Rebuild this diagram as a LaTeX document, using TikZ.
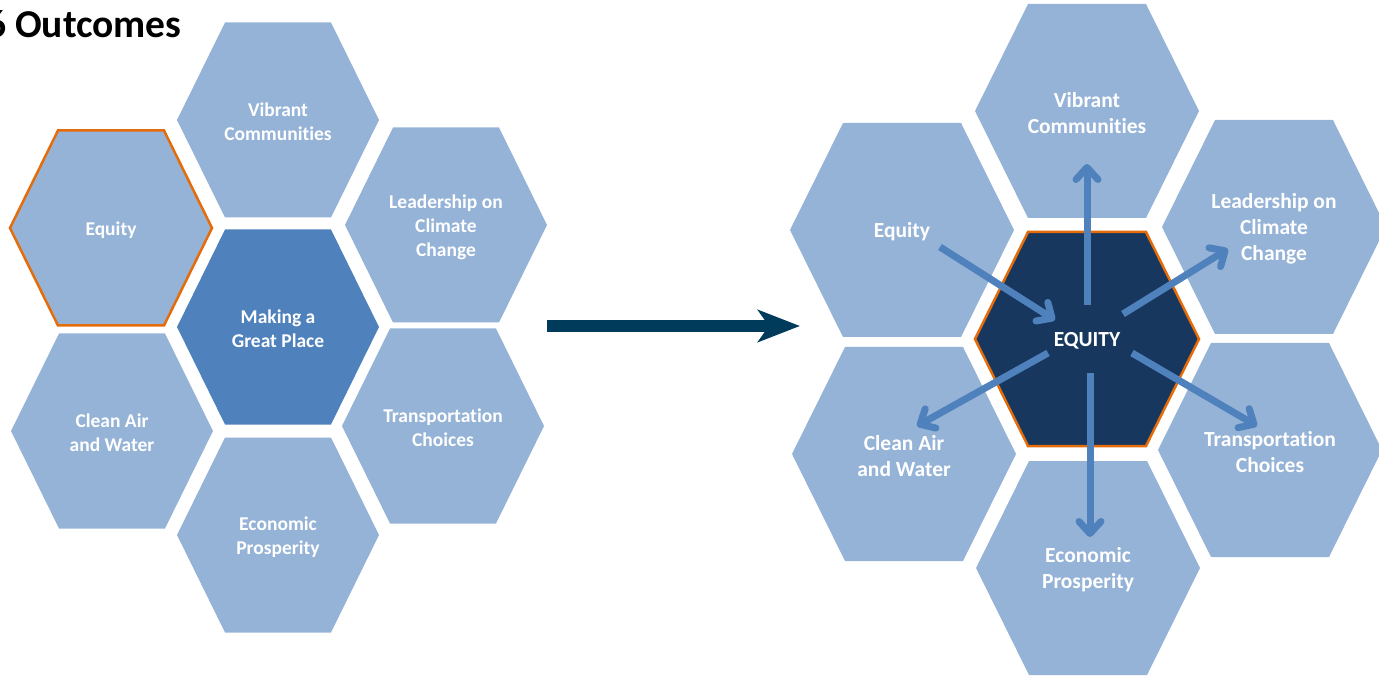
\documentclass[tikz,border=0pt]{standalone}
\usepackage{fontspec}
\setmainfont{Carlito}[Ligatures=NoCommon]
\usetikzlibrary{arrows.meta}
\definecolor{hexlight}{HTML}{95B3D7}
\definecolor{hexmid}{HTML}{4F81BD}
\definecolor{hexdark}{HTML}{17375E}
\definecolor{rim}{HTML}{E46C0A}
\definecolor{bigarrow}{HTML}{003B5C}

\begin{document}
\begin{tikzpicture}[x=1pt, y=-1pt,
    lbl/.style={text=white, font=\bfseries\fontsize{19.5}{24}\selectfont, align=center, inner sep=0pt, yshift=-2pt},
    rlbl/.style={lbl, font=\bfseries\fontsize{21.5}{26}\selectfont},
    spoke/.style={draw=hexmid, line width=7pt, -{Straight Barb[length=12pt,width=22pt,round]}}]
  \useasboundingbox (0,0) rectangle (1379,676);
  \clip (0,0) rectangle (1379,676);

  % --- title ---
  \node[anchor=base west, inner sep=0pt, font=\bfseries\fontsize{39.5}{47}\selectfont] (title) at (-14,38) {6 Outcomes};

  % --- left cluster ---
  \begin{scope}
    \foreach \nm/\cx/\cy/\fc/\lc/\txt in {
        vibL/278/120/hexlight/none/{Vibrant\\Communities},
        eqL/111/228/hexlight/rim/{Equity},
        mkL/278/327/hexmid/none/{Making a\\Great Place},
        ldL/446/225/hexlight/none/{Leadership on\\Climate\\Change},
        trL/443/426/hexlight/none/{Transportation\\Choices},
        caL/112/431/hexlight/none/{Clean Air\\and Water},
        ecL/278/535/hexlight/none/{Economic\\Prosperity}}{
      \path[fill=\fc, draw=\lc, line width=2.5pt, shift={(\cx,\cy)}]
        (-101,0) -- (-53,-97.5) -- (53,-97.5) -- (101,0) -- (53,97.5) -- (-53,97.5) -- cycle;
      \node[lbl] (\nm) at (\cx,\cy) {\txt};
    }
  \end{scope}

  % --- arrow between the clusters ---
  \coordinate (arrS) at (547,326);
  \coordinate (arrE) at (800,326);
  \draw[bigarrow, line width=12pt, -{Stealth[length=42pt,width=32pt,inset=11pt]}] (arrS) -- (arrE);

  % --- right cluster ---
  \begin{scope}
    \foreach \nm/\cx/\cy/\fc/\lc/\txt in {
        vibR/1087/111/hexlight/none/{Vibrant\\Communities},
        eqR/902/230/hexlight/none/{Equity},
        ctR/1087/339/hexdark/rim/{EQUITY},
        ldR/1274/227/hexlight/none/{Leadership on\\Climate\\Change},
        trR/1270/450/hexlight/none/{Transportation\\Choices},
        caR/904/454/hexlight/none/{Clean Air\\and Water},
        ecR/1088/568/hexlight/none/{Economic\\Prosperity}}{
      \path[fill=\fc, draw=\lc, line width=2.5pt, shift={(\cx,\cy)}]
        (-112,0) -- (-59,-107) -- (59,-107) -- (112,0) -- (59,107) -- (-59,107) -- cycle;
      \node[rlbl] (\nm) at (\cx,\cy) {\txt};
    }
    \draw[spoke] ([shift={(38,15)}]eqR.center) -- ([shift={(-32,-21)}]ctR.center);
    \draw[spoke] ([shift={(0,-36)}]ctR.center) -- ([shift={(0,51)}]vibR.center);
    \draw[spoke] ([shift={(36,-27)}]ctR.center) -- ([shift={(-46,20)}]ldR.center);
    \draw[spoke] ([shift={(45,12)}]ctR.center) -- ([shift={(-13,-26)}]trR.center);
    \draw[spoke] ([shift={(3,32)}]ctR.center) -- ([shift={(2,-33)}]ecR.center);
    \draw[spoke] ([shift={(-39,12)}]ctR.center) -- ([shift={(13,-30)}]caR.center);
  \end{scope}
\end{tikzpicture}
\end{document}
